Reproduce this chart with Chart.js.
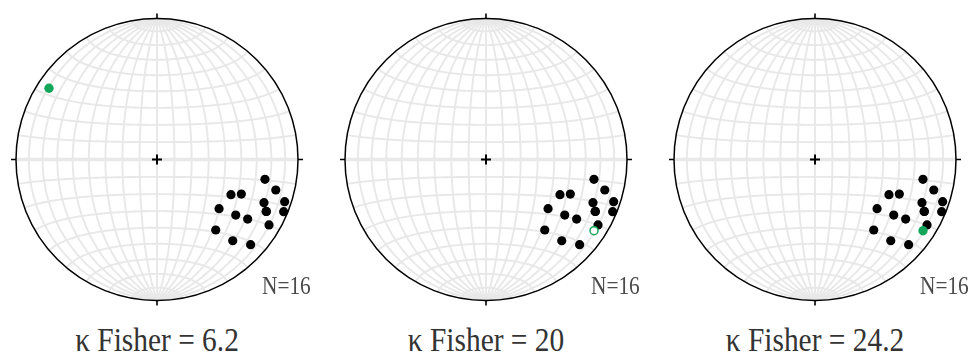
<!DOCTYPE html>
<html>
<head>
<meta charset="utf-8">
<script src="https://cdn.jsdelivr.net/npm/chart.js@4.4.1/dist/chart.umd.min.js"></script>
<style>
  html, body { margin: 0; padding: 0; background: #ffffff; }
  #wrap { position: relative; width: 974px; height: 356px; overflow: hidden; background: #fff; }
  .panel { position: absolute; top: 0; width: 310px; height: 310px; }
  .nlab { position: absolute; font-family: "Liberation Serif", "DejaVu Serif", serif; font-size: 22px; color: #4a4a4a; line-height: 1; transform: scale(0.97, 1.1); transform-origin: 0% 89%; }
  .title { position: absolute; width: 320px; text-align: center; font-family: "Liberation Serif", "DejaVu Serif", serif; font-size: 30px; color: #333; line-height: 1; transform: scale(0.98, 1.12); transform-origin: 50% 89%; }
</style>
</head>
<body>
<div id="wrap"></div>
<script>
// ---- data (directions: declination / inclination in degrees) ----
const siteDec = [100.4, 104.4, 115.4, 112.3, 112.0, 108.3, 128.4, 115.4, 112.4, 125.2, 123.3, 120.3, 140.2, 137.0, 132.3, 115.4];
const siteInc = [23.2, 14.1, 41.5, 35.6, 19.3, 5.2, 43.2, 15.3, 3.2, 32.2, 24.1, 8.8, 35.2, 22.3, 11.2, 15.3];
const meanDec = [303.4, 123.4, 123.4];
const meanInc = [9.1, -9.1, 9.1];
const kappaLabels = ["6.2", "20", "24.2"];
const countLabels = ["N=16", "N=16", "N=16"];

// ---- layout ----
const centersX = [157, 486, 815];
const CY = 159.5, R = 141, W = 310, H = 310;
const GREEN = '#12a65a';

function project(dec, inc) {
  const r = Math.SQRT2 * Math.sin((90 - Math.abs(inc)) / 2 * Math.PI / 180);
  const d = dec * Math.PI / 180;
  return { x: r * Math.sin(d), y: r * Math.cos(d) };
}

// Schmidt (equal-area) net drawn through the chart scales
function netPoint(latDeg, lonDeg) {
  const p = latDeg * Math.PI / 180, l = lonDeg * Math.PI / 180;
  const x3 = Math.cos(p) * Math.sin(l), y3 = Math.sin(p), z3 = Math.cos(p) * Math.cos(l);
  const k = Math.sqrt(1 / (1 + z3));
  return { x: x3 * k, y: y3 * k };
}

const netPlugin = {
  id: 'net',
  beforeDatasetsDraw(chart) {
    const ctx = chart.ctx, xs = chart.scales.x, ys = chart.scales.y;
    const px = v => xs.getPixelForValue(v), py = v => ys.getPixelForValue(v);
    ctx.save();
    ctx.strokeStyle = '#e8e8e8';
    ctx.lineCap = 'butt';
    ctx.lineWidth = 1.9;
    // great circles (meridians)
    for (let lon = -80; lon <= 80; lon += 10) {
      ctx.beginPath();
      for (let lat = -90; lat <= 90; lat += 1) {
        const q = netPoint(lat, lon);
        if (lat === -90) ctx.moveTo(px(q.x), py(q.y)); else ctx.lineTo(px(q.x), py(q.y));
      }
      ctx.stroke();
    }
    // small circles (parallels)
    for (let lat = -80; lat <= 80; lat += 10) {
      ctx.lineWidth = lat === 0 ? 3.5 : 1.9;
      ctx.beginPath();
      for (let lon = -90; lon <= 90; lon += 1) {
        const q = netPoint(lat, lon);
        if (lon === -90) ctx.moveTo(px(q.x), py(q.y)); else ctx.lineTo(px(q.x), py(q.y));
      }
      ctx.stroke();
    }
    // primitive circle
    const cx = px(0), cy = py(0), rr = px(1) - px(0);
    ctx.strokeStyle = '#000';
    ctx.lineWidth = 1.5;
    ctx.beginPath();
    ctx.arc(cx, cy, rr, 0, Math.PI * 2);
    ctx.stroke();
    // N/E/S/W ticks
    ctx.lineWidth = 1.6;
    ctx.beginPath();
    ctx.moveTo(cx, cy - rr); ctx.lineTo(cx, cy - rr - 5);
    ctx.moveTo(cx, cy + rr); ctx.lineTo(cx, cy + rr + 5);
    ctx.moveTo(cx - rr, cy); ctx.lineTo(cx - rr - 5, cy);
    ctx.moveTo(cx + rr, cy); ctx.lineTo(cx + rr + 5, cy);
    ctx.stroke();
    // centre cross
    ctx.lineWidth = 2;
    ctx.beginPath();
    ctx.moveTo(cx - 5, cy); ctx.lineTo(cx + 5, cy);
    ctx.moveTo(cx, cy - 5); ctx.lineTo(cx, cy + 5);
    ctx.stroke();
    ctx.restore();
  }
};

const wrap = document.getElementById('wrap');
for (let i = 0; i < 3; i++) {
  const cx = centersX[i];
  const left = cx - W / 2;
  const div = document.createElement('div');
  div.className = 'panel';
  div.style.left = left + 'px';
  const cv = document.createElement('canvas');
  cv.width = W; cv.height = H;
  cv.style.width = W + 'px'; cv.style.height = H + 'px';
  div.appendChild(cv);
  wrap.appendChild(div);

  const sites = siteDec.map((d, j) => project(d, siteInc[j]));
  const m = project(meanDec[i], meanInc[i]);
  const filled = meanInc[i] >= 0;

  new Chart(cv, {
    type: 'scatter',
    data: {
      datasets: [
        {
          label: 'mean',
          data: [m],
          order: 0,
          clip: false,
          pointRadius: filled ? 4.7 : 4.0,
          pointBackgroundColor: filled ? GREEN : '#ffffff',
          pointBorderColor: GREEN,
          pointBorderWidth: filled ? 0 : 1.5
        },
        {
          label: 'sites',
          data: sites,
          order: 1,
          clip: false,
          pointRadius: 4.6,
          pointBackgroundColor: '#000',
          pointBorderColor: '#000',
          pointBorderWidth: 0
        }
      ]
    },
    options: {
      responsive: false,
      animation: false,
      devicePixelRatio: 1,
      layout: {
        padding: {
          left: (cx - R) - left,
          right: (left + W) - (cx + R),
          top: CY - R,
          bottom: H - (CY + R)
        }
      },
      scales: {
        x: { type: 'linear', min: -1, max: 1, display: false },
        y: { type: 'linear', min: -1, max: 1, display: false }
      },
      plugins: { legend: { display: false }, tooltip: { enabled: false }, title: { display: false } },
      events: []
    },
    plugins: [netPlugin]
  });

  const n = document.createElement('div');
  n.className = 'nlab';
  n.textContent = countLabels[i];
  n.style.left = (cx + 105) + 'px';
  n.style.top = '276px';
  wrap.appendChild(n);

  const t = document.createElement('div');
  t.className = 'title';
  t.textContent = '\u03ba Fisher = ' + kappaLabels[i];
  t.style.left = (cx - 160) + 'px';
  t.style.top = '326px';
  wrap.appendChild(t);
}
</script>
</body>
</html>
